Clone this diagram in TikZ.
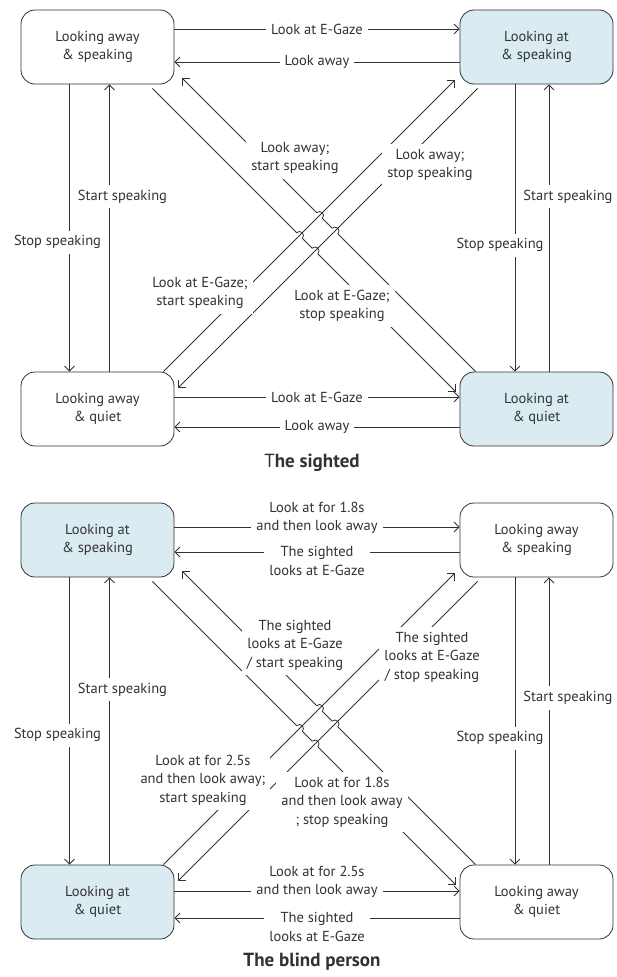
\documentclass[tikz,border=0pt]{standalone}
\usepackage{fontspec}
\setmainfont{PT Sans}
\usetikzlibrary{arrows.meta,calc}
\definecolor{gazeblue}{RGB}{218,236,242}
\definecolor{inkgray}{RGB}{50,50,50}
\tikzset{
	state/.style={draw, rounded corners=14pt, minimum width=153pt, minimum height=74pt, align=center, inner sep=2pt},
	lookat/.style={state, fill=gazeblue},
	lbl/.style={fill=white, inner sep=5pt, align=center},
	caption/.style={font=\fontsize{19}{23}\selectfont\bfseries},
}
\begin{document}
\begin{tikzpicture}[x=1pt, y=1pt, >={Straight Barb[length=5pt,width=10pt]}, line width=0.8pt, color=inkgray, font=\fontsize{14.5}{18.5}\selectfont]
	\useasboundingbox (0,0) rectangle (616,-977);
	% the sighted
	\node[state]  (awaySpeak) at (97.5,-47)  {Looking away\\\& speaking};
	\node[lookat] (atSpeak)   at (536.5,-47) {Looking at\\\& speaking};
	\node[state]  (awayQuiet) at (97.5,-409) {Looking away\\\& quiet};
	\node[lookat] (atQuiet)   at (536.5,-409) {Looking at\\\& quiet};
	\draw[->]([yshift=18pt]awaySpeak.east)--node[lbl](sLook1){Look at E-Gaze}([yshift=18pt]atSpeak.west);
	\draw[->]([yshift=-15pt]atSpeak.west)--node[lbl](sAway1){Look away}([yshift=-15pt]awaySpeak.east);
	\draw[->]([yshift=12pt]awayQuiet.east)--node[lbl](sLook2){Look at E-Gaze}([yshift=12pt]atQuiet.west);
	\draw[->]([yshift=-18pt]atQuiet.west)--node[lbl](sAway2){Look away}([yshift=-18pt]awayQuiet.east);
	\draw[->]([xshift=-28pt]awaySpeak.south)--node[lbl,pos=.55,xshift=-12pt](sStop1){Stop speaking}([xshift=-28pt]awayQuiet.north);
	\draw[->]([xshift=12pt]awayQuiet.north)--node[lbl,pos=.61,xshift=13pt](sStart1){Start speaking}([xshift=12pt]awaySpeak.south);
	\draw[->]([xshift=-21.5pt]atSpeak.south)--node[lbl,pos=.56,xshift=-15pt](sStop2){Stop speaking}([xshift=-21.5pt]atQuiet.north);
	\draw[->]([xshift=12.5pt]atQuiet.north)--node[lbl,pos=.61,xshift=19pt](sStart2){Start speaking}([xshift=12.5pt]atSpeak.south);
	% diagonals
	\coordinate (aS) at ($(awaySpeak.south east)+(-22,-4)$);
	\coordinate (aE) at ($(atQuiet.north west)+(-4,-20)$);
	\coordinate (bS) at ($(atQuiet.north west)+(16,0)$);
	\coordinate (bE) at ($(awaySpeak.south east)+(8,6)$);
	\coordinate (cS) at ($(awayQuiet.north east)+(-11,0)$);
	\coordinate (cE) at ($(atSpeak.south west)+(-5,4)$);
	\coordinate (dS) at ($(atSpeak.south west)+(18,-4)$);
	\coordinate (dE) at ($(awayQuiet.north east)+(4,-16)$);
	\coordinate (x1) at (299.5,-235.5);
	\coordinate (x2) at (315,-251);
	\coordinate (x3) at (319.5,-215.5);
	\coordinate (x4) at (335,-231);
	\draw[->](cS)--(cE);
	\draw[->](dS)--(dE);
	\draw[->](aS)--($(x1)!4pt!(aS)$) arc[start angle=135,end angle=-45,radius=4pt]
		--($(x2)!4pt!(aS)$) arc[start angle=135,end angle=-45,radius=4pt]--(aE);
	\draw[->](bS)--($(x4)!4pt!(bS)$) arc[start angle=-45,end angle=135,radius=4pt]
		--($(x3)!4pt!(bS)$) arc[start angle=-45,end angle=135,radius=4pt]--(bE);
	\node[lbl] (sB) at (295,-158) {Look away;\\start speaking};
	\node[lbl] (sD) at (430,-165) {Look away;\\stop speaking};
	\node[lbl] (sC) at (200,-293) {Look at E-Gaze;\\start speaking};
	\node[lbl] (sA) at (342,-306) {Look at E-Gaze;\\stop speaking};
	\node[caption] (sighted) at (312,-463) {{\mdseries T}he sighted};
	% the blind person
	\begin{scope}[yshift=-493pt]
	\node[lookat] (bAtSpeak)   at (97.5,-47)  {Looking at\\\& speaking};
	\node[state]  (bAwaySpeak) at (536.5,-47) {Looking away\\\& speaking};
	\node[lookat] (bAtQuiet)   at (97.5,-409) {Looking at\\\& quiet};
	\node[state]  (bAwayQuiet) at (536.5,-409) {Looking away\\\& quiet};
	\draw[->]([yshift=13pt]bAtSpeak.east)--node[lbl,yshift=9pt](bLook1){Look at for 1.8s\\and then look away}([yshift=13pt]bAwaySpeak.west);
	\draw[->]([yshift=-12pt]bAwaySpeak.west)--node[lbl,yshift=-9pt](bSee1){The sighted\\looks at E-Gaze}([yshift=-12pt]bAtSpeak.east);
	\draw[->]([yshift=11pt]bAtQuiet.east)--node[lbl,yshift=9pt](bLook2){Look at for 2.5s\\and then look away}([yshift=11pt]bAwayQuiet.west);
	\draw[->]([yshift=-16pt]bAwayQuiet.west)--node[lbl,yshift=-9pt](bSee2){The sighted\\looks at E-Gaze}([yshift=-16pt]bAtQuiet.east);
	\draw[->]([xshift=-28pt]bAtSpeak.south)--node[lbl,pos=.55,xshift=-12pt](bStop1){Stop speaking}([xshift=-28pt]bAtQuiet.north);
	\draw[->]([xshift=12pt]bAtQuiet.north)--node[lbl,pos=.61,xshift=13pt](bStart1){Start speaking}([xshift=12pt]bAtSpeak.south);
	\draw[->]([xshift=-21.5pt]bAwaySpeak.south)--node[lbl,pos=.56,xshift=-15pt](bStop2){Stop speaking}([xshift=-21.5pt]bAwayQuiet.north);
	\draw[->]([xshift=12.5pt]bAwayQuiet.north)--node[lbl,pos=.58,xshift=19pt](bStart2){Start speaking}([xshift=12.5pt]bAwaySpeak.south);
	% diagonals
	\coordinate (aS) at ($(bAtSpeak.south east)+(-22,-4)$);
	\coordinate (aE) at ($(bAwayQuiet.north west)+(-4,-20)$);
	\coordinate (bS) at ($(bAwayQuiet.north west)+(16,0)$);
	\coordinate (bE) at ($(bAtSpeak.south east)+(8,6)$);
	\coordinate (cS) at ($(bAtQuiet.north east)+(-11,0)$);
	\coordinate (cE) at ($(bAwaySpeak.south west)+(-5,4)$);
	\coordinate (dS) at ($(bAwaySpeak.south west)+(18,-4)$);
	\coordinate (dE) at ($(bAtQuiet.north east)+(4,-16)$);
	\coordinate (x1) at (299.5,-235.5);
	\coordinate (x2) at (315,-251);
	\coordinate (x3) at (319.5,-215.5);
	\coordinate (x4) at (335,-231);
	\draw[->](cS)--(cE);
	\draw[->](dS)--(dE);
	\draw[->](aS)--($(x1)!4pt!(aS)$) arc[start angle=135,end angle=-45,radius=4pt]
		--($(x2)!4pt!(aS)$) arc[start angle=135,end angle=-45,radius=4pt]--(aE);
	\draw[->](bS)--($(x4)!4pt!(bS)$) arc[start angle=-45,end angle=135,radius=4pt]
		--($(x3)!4pt!(bS)$) arc[start angle=-45,end angle=135,radius=4pt]--(bE);
	\node[lbl] (bB) at (295,-152) {The sighted\\looks at E-Gaze\\/ start speaking};
	\node[lbl] (bD) at (432,-164) {The sighted\\looks at E-Gaze\\/ stop speaking};
	\node[lbl] (bC) at (203,-287) {Look at for 2.5s\\and then look away;\\start speaking};
	\node[lbl] (bA) at (342,-309) {Look at for 1.8s\\and then look away\\; stop speaking};
	\node[caption] (blind) at (312,-469) {The blind person};
	\end{scope}
\end{tikzpicture}
\end{document}
